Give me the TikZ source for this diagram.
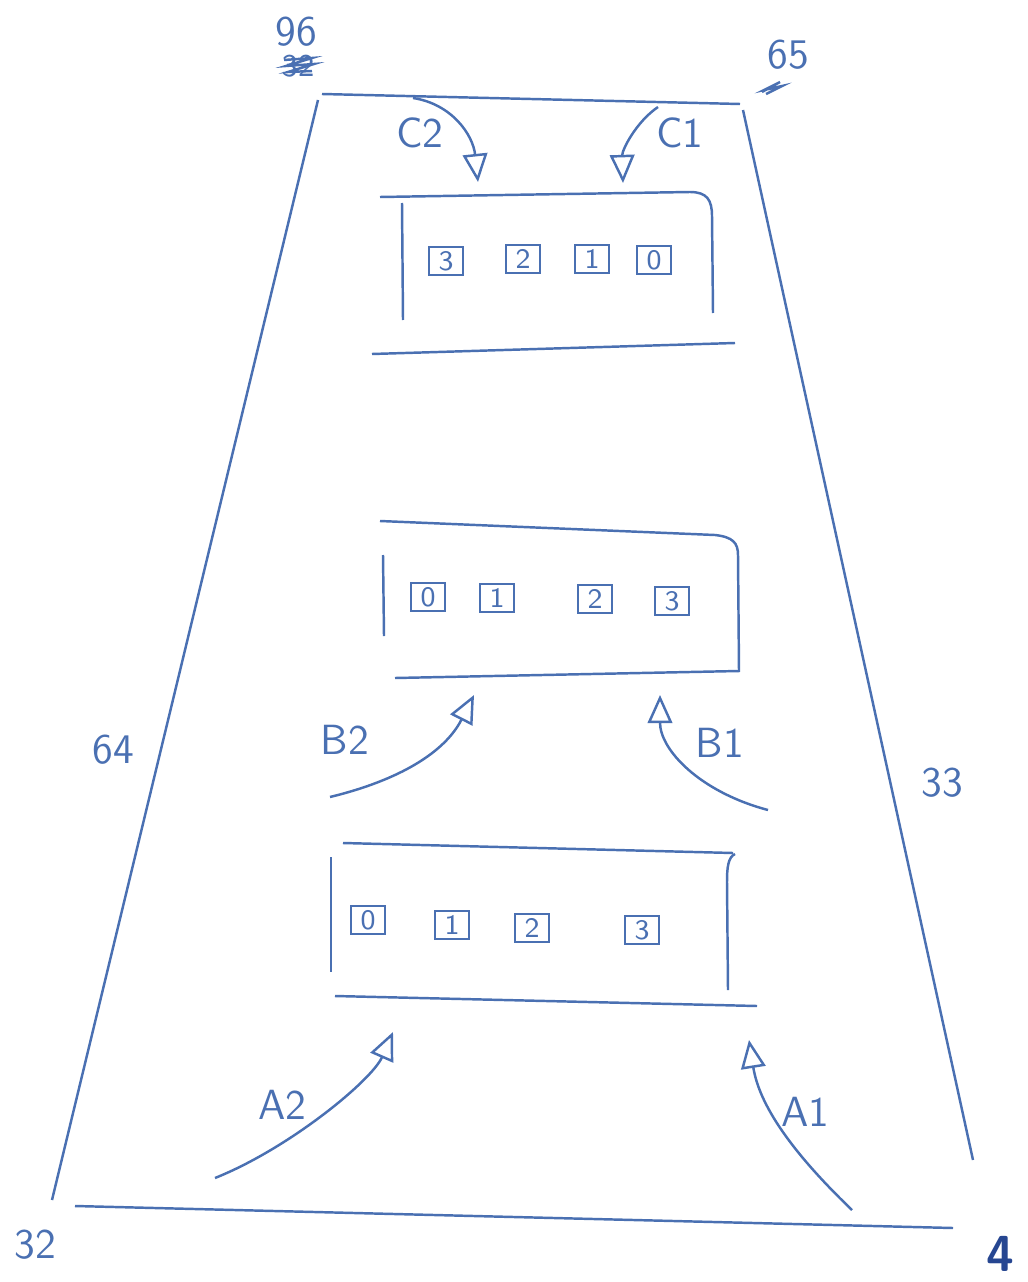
\documentclass[tikz,border=0pt]{standalone}
\usepackage{xcolor}
\usepackage{tikz}
\usetikzlibrary{arrows.meta, positioning}
\definecolor{pen}{RGB}{74,112,178}
\definecolor{ink}{RGB}{38,70,145}

\begin{document}
\begin{tikzpicture}[
        x=0.01cm, y=-0.01cm,
        line width=0.7pt,
        edge/.style={draw=pen},
        slot/.style={draw=pen, rectangle, minimum width=0.34cm, minimum height=0.28cm, inner sep=1pt, font=\sffamily\footnotesize, text=pen},
        flow/.style={draw=pen, -{Triangle[open, length=8pt, width=7pt]}},
        tag/.style={font=\sffamily\large, text=pen}
    ]
        \useasboundingbox (0,0) rectangle (1028,1282);

        % outer frame
        \draw[edge] (322,94) -- (740,104);
        \draw[edge] (318,100) -- (52,1200);
        \draw[edge] (743,110) -- (973,1160);
        \draw[edge] (75,1206) -- (953,1228);

        % box C
        \draw[edge] (380,197) -- (690,192) .. controls (707,192) and (712,200) .. (712,216) -- (713,313);
        \draw[edge] (402,203) -- (403,320);
        \draw[edge] (372,354) -- (735,343);
        \node[slot] (c3) at (446,261) {3};
        \node[slot] (c2) at (523,259) {2};
        \node[slot] (c1) at (592,259) {1};
        \node[slot] (c0) at (654,260) {0};

        % box B
        \draw[edge] (380,521) -- (715,535) .. controls (733,537) and (738,543) .. (738,555) -- (739,672);
        \draw[edge] (383,555) -- (384,636);
        \draw[edge] (395,678) -- (739,671);
        \node[slot] (b0) at (428,597) {0};
        \node[slot] (b1) at (497,598) {1};
        \node[slot] (b2) at (595,599) {2};
        \node[slot] (b3) at (672,601) {3};

        % box A
        \draw[edge] (343,843) -- (733,853);
        \draw[edge] (735,854) .. controls (728,857) and (727,868) .. (727,882) -- (728,990);
        \draw[edge] (331,857) -- (331,972);
        \draw[edge] (335,996) -- (757,1006);
        \node[slot] (a0) at (368,920) {0};
        \node[slot] (a1) at (452,925) {1};
        \node[slot] (a2) at (532,928) {2};
        \node[slot] (a3) at (642,930) {3};

        % flows
        \coordinate (c2from) at (413,98);
        \coordinate (c2to) at (478,182);
        \coordinate (c1from) at (658,107);
        \coordinate (c1to) at (623,183);
        \coordinate (b2from) at (330,797);
        \coordinate (b2to) at (474,695);
        \coordinate (b1from) at (768,810);
        \coordinate (b1to) at (660,695);
        \coordinate (a2from) at (215,1178);
        \coordinate (a2to) at (393,1032);
        \coordinate (a1from) at (852,1210);
        \coordinate (a1to) at (749,1040);
        \draw[flow] (c2from) .. controls (452,104) and (473,135) .. (c2to);
        \draw[flow] (c1from) .. controls (636,122) and (622,150) .. (c1to);
        \draw[flow] (b2from) .. controls (400,780) and (445,752) .. (b2to);
        \draw[flow] (b1from) .. controls (700,792) and (660,750) .. (b1to);
        \draw[flow] (a2from) .. controls (290,1148) and (372,1080) .. (a2to);
        \draw[flow] (a1from) .. controls (800,1160) and (760,1110) .. (a1to);
        \node[tag] (c2lbl) at (420,133) {C2};
        \node[tag] (c1lbl) at (680,133) {C1};
        \node[tag] (b2lbl) at (345,740) {B2};
        \node[tag] (b1lbl) at (720,743) {B1};
        \node[tag] (a2lbl) at (282,1105) {A2};
        \node[tag] (a1lbl) at (805,1112) {A1};

        % corner numbers
        \node[tag] (n96) at (296,32) {96};
        \node[tag, font=\sffamily\small] (n96old) at (298,66) {32};
        \draw[edge] (284,60) -- (312,58) -- (286,66) -- (314,64) -- (288,72) -- (312,71);
        \node[tag] (n65) at (788,55) {65};
        \draw[edge] (762,92) -- (780,82) -- (764,90) -- (782,86) -- (766,94);
        \node[tag] (n64) at (113,750) {64};
        \node[tag] (n33) at (942,783) {33};
        \node[tag] (n32) at (35,1245) {32};
        \node[font=\sffamily\bfseries\Large, text=ink] (n4) at (1000,1254) {4};
    \end{tikzpicture}
\end{document}
